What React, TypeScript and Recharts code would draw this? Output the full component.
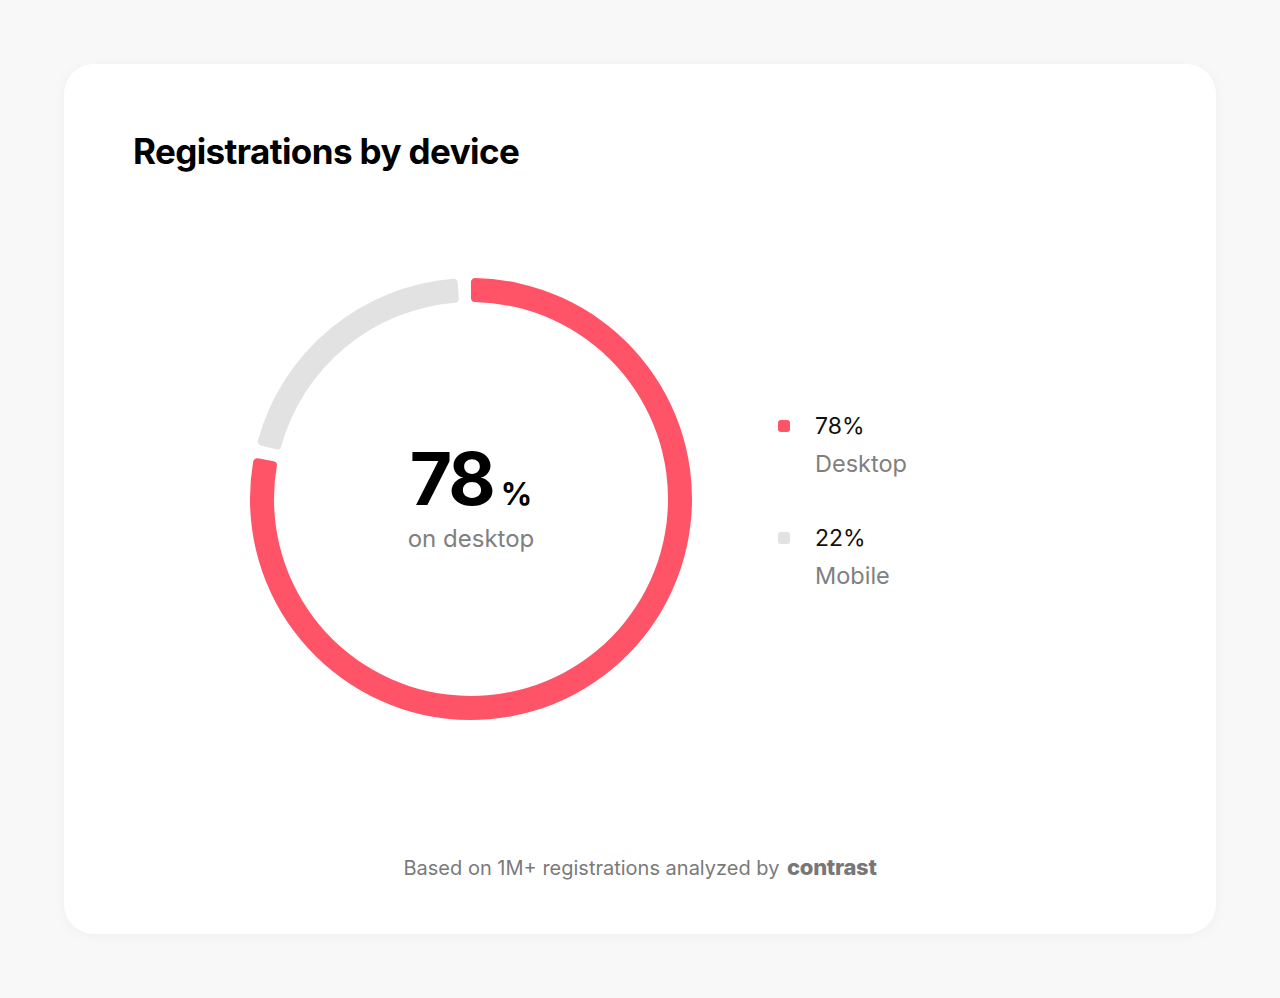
import React from 'react';
import { PieChart, Pie, Cell, Legend } from 'recharts';

const devices = ['Desktop', 'Mobile'];
const shares = [78, 22];
const colors = ['#FF5367', '#E2E2E2'];
const centerCaption = 'on desktop';

const data = devices.map((name, i) => ({ name, value: shares[i] }));

const FONT = 'Inter, "Noto Sans", sans-serif';

const PIE_CX = 407;
const PIE_CY = 435;
const GAP = 3.5; // degrees cut from the grey arc at both ends

// desktop arc takes its full share of the circle, mobile gets what is left minus the gaps
const desktopEnd = 90 - (360 * shares[0]) / 100;

const DeviceLegend = () => (
  <div style={{ fontFamily: FONT }}>
    {data.map((d, i) => (
      <div key={d.name} style={{ position: 'relative', height: 112 }}>
        <div
          style={{
            position: 'absolute',
            left: 0,
            top: 8,
            width: 12,
            height: 12,
            borderRadius: 3,
            background: colors[i],
          }}
        />
        <div style={{ position: 'absolute', left: 37, top: 0, fontSize: 23, color: '#111', lineHeight: '28px' }}>
          {d.value}%
        </div>
        <div style={{ position: 'absolute', left: 37, top: 38, fontSize: 23.5, color: '#808080', lineHeight: '28px' }}>
          {d.name}
        </div>
      </div>
    ))}
  </div>
);

export default function App() {
  return (
    <div
      style={{
        position: 'absolute',
        left: 0,
        top: 0,
        width: 1280,
        height: 998,
        background: '#F8F8F8',
        fontFamily: FONT,
      }}
    >
      <div
        style={{
          position: 'absolute',
          left: 64,
          top: 64,
          width: 1152,
          height: 870,
          background: '#FFFFFF',
          borderRadius: 30,
          boxShadow: '0 2px 14px rgba(0,0,0,0.04)',
        }}
      >
        <div
          style={{
            position: 'absolute',
            left: 69,
            top: 66,
            fontSize: 35,
            fontWeight: 700,
            color: '#000',
            letterSpacing: -0.6,
          }}
        >
          Registrations by device
        </div>

        <div style={{ position: 'absolute', left: 0, top: 0 }}>
          <PieChart width={1152} height={760} margin={{ top: 0, right: 0, bottom: 0, left: 0 }}>
            <Pie
              data={[data[0]]}
              dataKey="value"
              nameKey="name"
              cx={PIE_CX}
              cy={PIE_CY}
              innerRadius={197}
              outerRadius={221}
              startAngle={90}
              endAngle={desktopEnd}
              cornerRadius={4}
              stroke="none"
              isAnimationActive={false}
            >
              <Cell fill={colors[0]} />
            </Pie>
            <Pie
              data={[data[1]]}
              dataKey="value"
              nameKey="name"
              cx={PIE_CX}
              cy={PIE_CY}
              innerRadius={197}
              outerRadius={221}
              startAngle={desktopEnd - GAP}
              endAngle={-270 + GAP}
              cornerRadius={4}
              stroke="none"
              isAnimationActive={false}
            >
              <Cell fill={colors[1]} />
            </Pie>
            <Legend
              content={<DeviceLegend />}
              wrapperStyle={{ position: 'absolute', left: 714, top: 348, width: 220 }}
            />
          </PieChart>
        </div>

        <div
          style={{
            position: 'absolute',
            left: PIE_CX - 150,
            width: 300,
            top: PIE_CY - 56,
            textAlign: 'center',
            pointerEvents: 'none',
          }}
        >
          <div style={{ height: 72, lineHeight: '72px', whiteSpace: 'nowrap' }}>
            <span style={{ fontSize: 73, fontWeight: 700, color: '#000', letterSpacing: -3 }}>{shares[0]}</span>
            <span style={{ fontSize: 31, fontWeight: 700, color: '#000', marginLeft: 8 }}>%</span>
          </div>
          <div style={{ marginTop: 10, fontSize: 24, color: '#808080', lineHeight: '28px' }}>{centerCaption}</div>
        </div>

        <div
          style={{
            position: 'absolute',
            left: 0,
            width: 1152,
            top: 790,
            textAlign: 'center',
            fontSize: 20,
            color: '#7A7A7A',
          }}
        >
          Based on 1M+ registrations analyzed by{' '}
          <span style={{ fontWeight: 800, color: '#777', fontSize: 22, letterSpacing: -0.3, marginLeft: 2 }}>contrast</span>
        </div>
      </div>
    </div>
  );
}
